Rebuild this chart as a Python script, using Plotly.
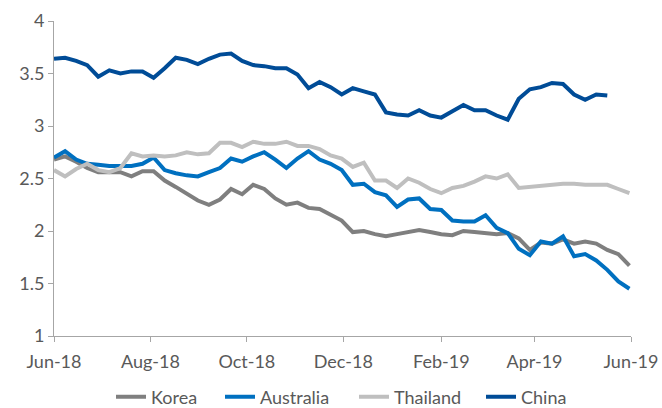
import pandas as pd
import plotly.graph_objects as go

dates = pd.date_range("2018-06-01", periods=53, freq="7D")

korea = [2.68, 2.71, 2.66, 2.60, 2.56, 2.56, 2.56, 2.52, 2.57, 2.57, 2.48, 2.42, 2.35, 2.29,
         2.25, 2.30, 2.40, 2.35, 2.44, 2.40, 2.31, 2.25, 2.27, 2.22, 2.21, 2.16, 2.10, 1.99,
         2.00, 1.97, 1.95, 1.97, 1.99, 2.01, 1.99, 1.97, 1.96, 2.00, 1.99, 1.98, 1.97, 1.98,
         1.93, 1.82, 1.89, 1.88, 1.92, 1.88, 1.90, 1.88, 1.82, 1.78, 1.67]
australia = [2.70, 2.76, 2.68, 2.64, 2.63, 2.62, 2.62, 2.62, 2.64, 2.70, 2.58, 2.55, 2.53, 2.52,
             2.56, 2.60, 2.69, 2.66, 2.71, 2.75, 2.68, 2.60, 2.69, 2.76, 2.68, 2.64, 2.58, 2.44,
             2.45, 2.37, 2.34, 2.23, 2.30, 2.31, 2.21, 2.20, 2.10, 2.09, 2.09, 2.15, 2.03, 1.98,
             1.83, 1.77, 1.90, 1.88, 1.95, 1.76, 1.78, 1.72, 1.63, 1.52, 1.45]
thailand = [2.58, 2.52, 2.59, 2.64, 2.58, 2.56, 2.60, 2.74, 2.71, 2.72, 2.71, 2.72, 2.75, 2.73,
            2.74, 2.84, 2.84, 2.80, 2.85, 2.83, 2.83, 2.85, 2.81, 2.81, 2.78, 2.72, 2.69, 2.61,
            2.65, 2.48, 2.48, 2.41, 2.50, 2.46, 2.40, 2.36, 2.41, 2.43, 2.47, 2.52, 2.50, 2.54,
            2.41, 2.42, 2.43, 2.44, 2.45, 2.45, 2.44, 2.44, 2.44, 2.40, 2.36]
china = [3.64, 3.65, 3.62, 3.58, 3.47, 3.53, 3.50, 3.52, 3.52, 3.46, 3.55, 3.65, 3.63, 3.59,
         3.64, 3.68, 3.69, 3.62, 3.58, 3.57, 3.55, 3.55, 3.49, 3.36, 3.42, 3.37, 3.30, 3.36,
         3.33, 3.30, 3.13, 3.11, 3.10, 3.15, 3.10, 3.08, 3.14, 3.20, 3.15, 3.15, 3.10, 3.06,
         3.26, 3.35, 3.37, 3.41, 3.40, 3.30, 3.25, 3.30, 3.29]

series = [("Korea", korea, "#7f7f7f"), ("Australia", australia, "#0070c0"),
          ("Thailand", thailand, "#bfbfbf"), ("China", china, "#004c97")]
legend_x_px = [111, 220, 354, 481]

font = dict(family="Lato, Open Sans, sans-serif", size=18, color="#595959")

fig = go.Figure()
legend_layouts = {}
for i, (name, vals, col) in enumerate(series):
    key = "legend" if i == 0 else f"legend{i + 1}"
    fig.add_trace(go.Scatter(x=dates[:len(vals)], y=vals, name=name, mode="lines",
                             line=dict(color=col, width=4), legend=key))
    legend_layouts[key] = dict(orientation="h", xref="container", yref="container",
                               x=legend_x_px[i] / 662, xanchor="left",
                               y=11 / 408, yanchor="middle",
                               bgcolor="rgba(0,0,0,0)", font=font)

fig.update_layout(
    width=662, height=408,
    margin=dict(l=54, r=31, t=21, b=72, autoexpand=False),
    paper_bgcolor="white", plot_bgcolor="white",
    font=font,
    showlegend=True,
    xaxis=dict(type="date", range=["2018-06-01", "2019-06-01"], tick0="2018-06-01",
               dtick="M2", tickformat="%b-%y", showgrid=False, zeroline=False,
               showline=True, linecolor="#a6a6a6", linewidth=1, automargin=False,
               ticks="outside", ticklen=5, tickcolor="#a6a6a6", tickfont=font,
               ticklabelstandoff=4),
    yaxis=dict(range=[1, 4], dtick=0.5, showgrid=False, zeroline=False,
               showline=True, linecolor="#a6a6a6", linewidth=1, automargin=False,
               ticks="outside", ticklen=5, tickcolor="#a6a6a6", tickfont=font),
    **legend_layouts,
)

fig.write_html("out.html", config={"displayModeBar": False},
               post_script="document.body.style.margin='0';document.body.style.overflow='hidden';")
